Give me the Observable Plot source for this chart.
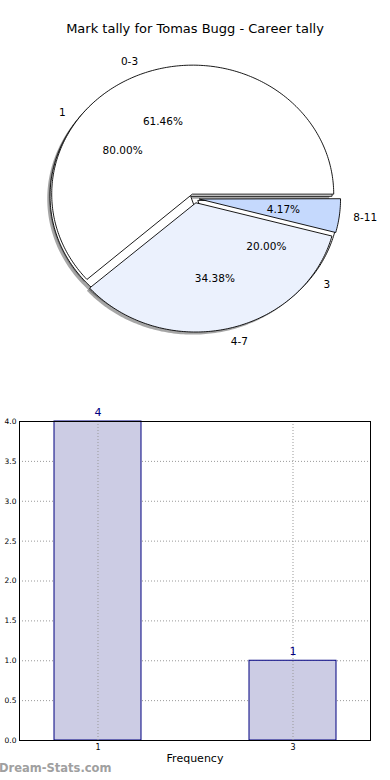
<!DOCTYPE html>
<html>
<head>
<meta charset="utf-8">
<script src="https://cdn.jsdelivr.net/npm/d3@7"></script>
<script src="https://cdn.jsdelivr.net/npm/@observablehq/plot@0.6"></script>
<style>
  html, body { margin: 0; padding: 0; background: #fff; }
  #wrap { position: relative; width: 390px; height: 780px; overflow: hidden; font-family: "DejaVu Sans", sans-serif; }
  #title { position: absolute; top: 21px; left: 0; width: 390px; text-align: center; font-size: 13px; color: #000; }
  #pie { position: absolute; top: 0; left: 0; }
  #bars { position: absolute; top: 400px; left: 0; }
  #mark { position: absolute; top: 761px; left: -1px; font-size: 11.5px; font-weight: bold; color: #a0a0a0; }
</style>
</head>
<body>
<div id="wrap">
  <div id="pie"></div>
  <div id="title"></div>
  <div id="bars"></div>
  <div id="mark"></div>
</div>
<script>
const chartTitle = "Mark tally for Tomas Bugg - Career tally";
const watermark = "Dream-Stats.com";

// Outer pie: mark ranges (percent shares)
const rangeLabels = ["0-3", "4-7", "8-11"];
const rangeValues = [61.46, 34.38, 4.17];
const rangeColors = ["#ffffff", "#ebf1fd", "#c5d9fd"];
const rangeExplode = [0.036, 0.036, 0.036];

// Second pie + bar chart: frequency of marks
const countLabels = ["1", "3"];
const countValues = [4, 1];
const countColors = ["#ffffff", "#ffffff"];
const countExplode = [0.03, 0.03];

const yTicks = [0, 0.5, 1, 1.5, 2, 2.5, 3, 3.5, 4];
const xAxisLabel = "Frequency";

document.getElementById("title").textContent = chartTitle;
document.getElementById("mark").textContent = watermark;

function buildWedges(labels, values, explode, colors, valuesArePercent) {
  const total = d3.sum(values);
  const arcs = d3.pie().sort(null).startAngle(0).endAngle(2 * Math.PI)(values);
  return arcs.map((a, i) => {
    const mid = (a.startAngle + a.endAngle) / 2;
    const ox = explode[i] * Math.cos(mid);
    const oy = explode[i] * Math.sin(mid);
    const n = Math.max(2, Math.ceil((a.endAngle - a.startAngle) / (Math.PI / 180)));
    const pts = [{x: ox, y: oy}];
    for (let k = 0; k <= n; k++) {
      const t = a.startAngle + (a.endAngle - a.startAngle) * k / n;
      pts.push({x: ox + Math.cos(t), y: oy + Math.sin(t)});
    }
    const pct = valuesArePercent ? values[i] : values[i] / total * 100;
    return {label: labels[i], pct: pct.toFixed(2) + "%", color: colors[i], mid, ox, oy, pts};
  });
}

const ring = buildWedges(rangeLabels, rangeValues, rangeExplode, rangeColors, true);
const counts = buildWedges(countLabels, countValues, countExplode, countColors, false);
const all = [...counts, ...ring];

const shadowMarks = all.map(w => Plot.line(w.pts, {
  x: d => d.x - 0.02, y: d => d.y - 0.02, curve: "linear-closed",
  fill: "#4d4d4d", fillOpacity: 0.5, stroke: "none"
}));
const wedgeMarks = all.map(w => Plot.line(w.pts, {
  x: "x", y: "y", curve: "linear-closed",
  fill: w.color, stroke: "#000", strokeWidth: 0.9
}));

const textRows = all.flatMap(w => [
  {x: w.ox + 1.1 * Math.cos(w.mid), y: w.oy + 1.1 * Math.sin(w.mid), t: w.label, right: Math.cos(w.mid) >= 0},
  {x: w.ox + 0.6 * Math.cos(w.mid), y: w.oy + 0.6 * Math.sin(w.mid), t: w.pct, center: true}
]);

const pie = Plot.plot({
  width: 390, height: 390,
  margin: 0,
  x: {domain: [-1, 1], range: [53, 335], axis: null},
  y: {domain: [-1, 1], range: [327, 69], axis: null},
  style: {fontFamily: "DejaVu Sans, sans-serif", background: "transparent"},
  marks: [
    ...shadowMarks,
    ...wedgeMarks,
    Plot.text(textRows.filter(d => d.center), {x: "x", y: "y", text: "t", fontSize: 10.5, fill: "#000", textAnchor: "middle"}),
    Plot.text(textRows.filter(d => !d.center && d.right), {x: "x", y: "y", text: "t", fontSize: 10.5, fill: "#000", textAnchor: "start"}),
    Plot.text(textRows.filter(d => !d.center && !d.right), {x: "x", y: "y", text: "t", fontSize: 10.5, fill: "#000", textAnchor: "end"})
  ]
});
document.getElementById("pie").appendChild(pie);

const barData = countLabels.map((c, i) => ({cat: c, value: countValues[i]}));

const bars = Plot.plot({
  width: 390, height: 380,
  marginLeft: 19, marginRight: 20, marginTop: 21, marginBottom: 40,
  style: {fontFamily: "DejaVu Sans, sans-serif", background: "transparent"},
  x: {type: "band", domain: countLabels, paddingInner: 0.554, paddingOuter: 0.177, label: null},
  y: {domain: [0, 4], label: null},
  marks: [
    Plot.gridY(yTicks, {stroke: "#999", strokeOpacity: 1, strokeDasharray: "1,2"}),
    Plot.barY(barData, {x: "cat", y: "value", fill: "#ccccE4", stroke: "#000080", strokeWidth: 1, inset: 0}),
    Plot.gridX(countLabels, {stroke: "#999", strokeOpacity: 1, strokeDasharray: "1,2"}),
    Plot.text(barData, {x: "cat", y: "value", text: d => String(d.value), dy: -9, fill: "#000080", fontSize: 11}),
    Plot.axisY(yTicks, {tickSize: 0, tickPadding: 3, tickFormat: d3.format(".1f"), fontSize: 7.5, label: null}),
    Plot.axisX({tickSize: 0, tickPadding: 4, fontSize: 8, label: null}),
    Plot.text([xAxisLabel], {text: d => d, frameAnchor: "bottom", dy: 21, fontSize: 11, fill: "#000"}),
    Plot.frame({stroke: "#000", strokeWidth: 1})
  ]
});
document.getElementById("bars").appendChild(bars);
</script>
</body>
</html>
